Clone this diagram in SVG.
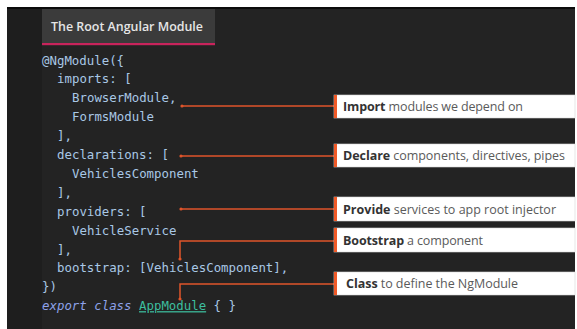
<svg xmlns="http://www.w3.org/2000/svg" width="577" height="329" viewBox="0 0 577 329">
  <style>
    .code { font-family: "DejaVu Sans Mono", "Liberation Mono", monospace; font-size: 12.4px; fill: #a9c8e6; }
    .kw { fill: #8ea2ea; font-style: italic; }
    .cls { fill: #3dbf9f; text-decoration: underline; }
    .conn { stroke: #e0552b; stroke-width: 1.5; fill: none; }
    .dot { fill: #e0552b; }
    .box { fill: #ffffff; stroke: #d8d8d8; stroke-width: 0.6; }
    .bar { fill: #f05a28; }
    .lbl { font-family: "Open Sans", "Liberation Sans", sans-serif; font-size: 12.5px; fill: #5a5a5a; }
    .lbl .b { font-weight: bold; fill: #333333; }
    .title { font-family: "Open Sans", "Liberation Sans", sans-serif; font-size: 12px; font-weight: 600; fill: #e6e6e6; }
  </style>

  <!-- page and code panel -->
  <rect x="0" y="0" width="577" height="329" fill="#ffffff"/>
  <rect x="7" y="7" width="568" height="322" fill="#232323"/>
  <rect x="7" y="7" width="568" height="2" fill="#0c0c0c"/>
  <rect x="7" y="9" width="35" height="320" fill="#1e1e1e"/>

  <!-- title tab -->
  <g id="title">
    <rect x="42" y="9" width="173" height="34" fill="#3b3b3b"/>
    <rect x="42" y="43" width="173" height="2.2" fill="#c8245c"/>
    <text class="title" x="51" y="31" textLength="152" lengthAdjust="spacingAndGlyphs">The Root Angular Module</text>
  </g>

  <!-- code listing -->
  <g id="code" class="code">
    <text x="42" y="64.5">@NgModule({</text>
    <text x="57" y="83.4">imports: [</text>
    <text x="72" y="102.3">BrowserModule,</text>
    <text x="72" y="121.2">FormsModule</text>
    <text x="57" y="140.1">],</text>
    <text x="57" y="159">declarations: [</text>
    <text x="72" y="177.9">VehiclesComponent</text>
    <text x="57" y="196.8">],</text>
    <text x="57" y="215.7">providers: [</text>
    <text x="72" y="234.6">VehicleService</text>
    <text x="57" y="253.5">],</text>
    <text x="57" y="272.4">bootstrap: [VehiclesComponent],</text>
    <text x="42" y="291.3">})</text>
    <text x="42" y="310.2"><tspan class="kw">export class</tspan> <tspan class="cls">AppModule</tspan> { }</text>
  </g>

  <!-- connectors from code to callouts -->
  <g id="connectors">
    <path class="conn" d="M182 106 H334"/>
    <circle class="dot" cx="182" cy="106" r="1.6"/>
    <path class="conn" d="M181 156 H334"/>
    <circle class="dot" cx="181" cy="156" r="1.6"/>
    <path class="conn" d="M181 209 H334"/>
    <circle class="dot" cx="181" cy="209" r="1.6"/>
    <path class="conn" d="M180 259 V241 H334"/>
    <circle class="dot" cx="180" cy="259" r="1.6"/>
    <path class="conn" d="M180 299 V284 H334"/>
    <circle class="dot" cx="180" cy="299" r="1.6"/>
  </g>

  <!-- callouts -->
  <g id="import">
    <rect class="box" x="334" y="95" width="241" height="23"/>
    <rect class="bar" x="334" y="95" width="3" height="23"/>
    <text class="lbl" x="343" y="111" textLength="180" lengthAdjust="spacing"><tspan class="b">Import</tspan> modules we depend on</text>
  </g>
  <g id="declare">
    <rect class="box" x="334" y="144" width="241" height="23"/>
    <rect class="bar" x="334" y="144" width="3" height="23"/>
    <text class="lbl" x="343" y="160" textLength="222" lengthAdjust="spacing"><tspan class="b">Declare</tspan> components, directives, pipes</text>
  </g>
  <g id="provide">
    <rect class="box" x="334" y="197" width="241" height="24"/>
    <rect class="bar" x="334" y="197" width="3" height="24"/>
    <text class="lbl" x="343" y="213.5" textLength="213" lengthAdjust="spacing"><tspan class="b">Provide</tspan> services to app root injector</text>
  </g>
  <g id="bootstrap">
    <rect class="box" x="334" y="228" width="241" height="24"/>
    <rect class="bar" x="334" y="228" width="3" height="24"/>
    <text class="lbl" x="343" y="244.5" textLength="140" lengthAdjust="spacing"><tspan class="b">Bootstrap</tspan> a component</text>
  </g>
  <g id="class">
    <rect class="box" x="334" y="272" width="241" height="23"/>
    <rect class="bar" x="334" y="272" width="3" height="23"/>
    <text class="lbl" x="346" y="288" textLength="172" lengthAdjust="spacing"><tspan class="b">Class</tspan> to define the NgModule</text>
  </g>
</svg>
